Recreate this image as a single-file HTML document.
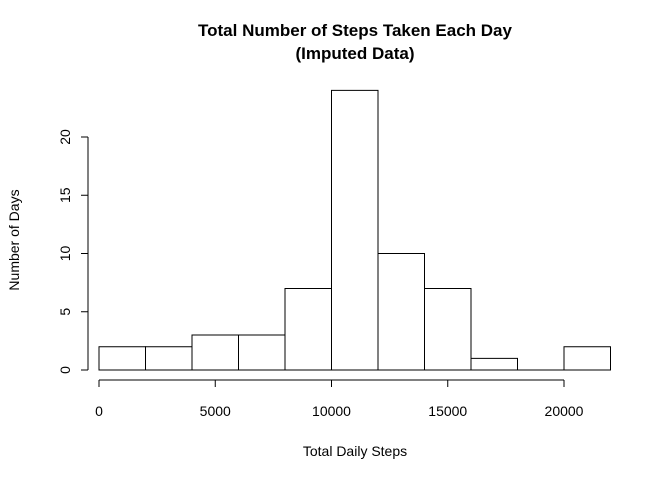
<!DOCTYPE html>
<html><head><meta charset="utf-8"><style>
body{margin:0;background:#fff}
svg text{font-family:"Liberation Sans",Arial,sans-serif;fill:#000}
</style></head><body>
<svg id="chart" width="672" height="480" xmlns="http://www.w3.org/2000/svg">
<text x="355" y="36" text-anchor="middle" font-size="17" font-weight="bold">Total Number of Steps Taken Each Day</text>
<text x="355" y="59" text-anchor="middle" font-size="17" font-weight="bold">(Imputed Data)</text>
<text x="355" y="456" text-anchor="middle" font-size="14">Total Daily Steps</text>
<text transform="translate(19,240) rotate(-90)" text-anchor="middle" font-size="14">Number of Days</text>
<g id="bars"></g><g id="xaxis"></g><g id="yaxis"></g>
</svg>
<script>
const binStarts=[0,2000,4000,6000,8000,10000,12000,14000,16000,18000,20000];
const binWidth=2000;
const counts=[2,2,3,3,7,24,10,7,1,0,2];
const xTicks=[0,5000,10000,15000,20000];
const yTicks=[0,5,10,15,20];
const ns="http://www.w3.org/2000/svg";
const X=v=>99+v*(564-99)/20000;
const Y=v=>370-v*(370-137)/20;
function mk(t,a,p){const e=document.createElementNS(ns,t);for(const k in a)e.setAttribute(k,a[k]);p.appendChild(e);return e;}
const bars=document.getElementById('bars');
binStarts.forEach((s,i)=>{
 const x0=X(s),x1=X(s+binWidth),y0=Y(0),y1=Y(counts[i]);
 const r=mk('path',{d:`M${x0},${y0}L${x0},${y1}L${x1},${y1}L${x1},${y0}Z`,fill:'none',stroke:'#000','stroke-width':1},bars);
 
 
});
const xa=document.getElementById('xaxis');
const xl=mk('line',{x1:X(xTicks[0]),x2:X(xTicks[xTicks.length-1]),y1:380,y2:380,stroke:'#000'},xa);


xTicks.forEach(t=>{
 mk('line',{x1:X(t),x2:X(t),y1:380,y2:387,stroke:'#000'},xa);
 const tx=mk('text',{x:X(t),y:416,'text-anchor':'middle','font-size':14},xa);tx.textContent=t;
 
 
});
const ya=document.getElementById('yaxis');
const yl=mk('line',{x1:88,x2:88,y1:Y(yTicks[0]),y2:Y(yTicks[yTicks.length-1]),stroke:'#000'},ya);


yTicks.forEach(t=>{
 mk('line',{x1:81,x2:88,y1:Y(t),y2:Y(t),stroke:'#000'},ya);
 const tx=mk('text',{transform:`translate(70,${Y(t)}) rotate(-90)`,'text-anchor':'middle','font-size':14},ya);tx.textContent=t;
 
 
});
</script>
</body></html>
